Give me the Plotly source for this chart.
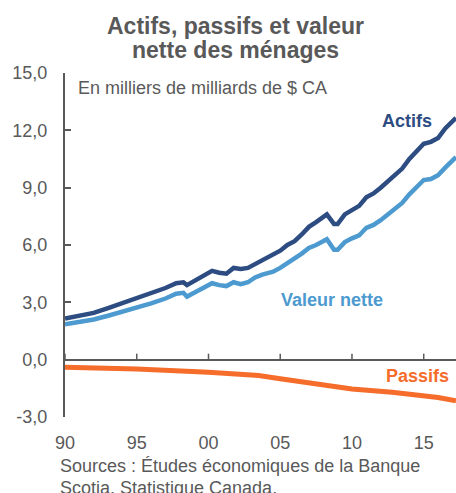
import plotly.graph_objects as go

# ---- data ----
years = [1990.0, 1991.0, 1992.0, 1993.0, 1994.0, 1995.0, 1996.0, 1997.0, 1997.75, 1998.25,
         1998.5, 1999.0, 1999.5, 2000.25, 2000.75, 2001.25, 2001.75, 2002.25, 2002.75, 2003.25,
         2003.75, 2004.5, 2005.0, 2005.5, 2006.0, 2006.5, 2007.0, 2007.5, 2008.25, 2008.75,
         2009.0, 2009.5, 2010.0, 2010.5, 2011.0, 2011.5, 2012.0, 2012.5, 2013.0, 2013.5,
         2014.0, 2014.5, 2015.0, 2015.5, 2016.0, 2016.5, 2017.0, 2017.25]
actifs = [2.15, 2.3, 2.45, 2.7, 2.95, 3.2, 3.45, 3.75, 4.0, 4.05,
          3.9, 4.1, 4.3, 4.65, 4.55, 4.5, 4.8, 4.75, 4.8, 5.0,
          5.2, 5.45, 5.7, 6.0, 6.2, 6.55, 6.95, 7.2, 7.6, 7.1,
          7.1, 7.6, 7.85, 8.05, 8.5, 8.7, 9.0, 9.35, 9.7, 10.0,
          10.5, 10.9, 11.3, 11.4, 11.6, 12.1, 12.5, 12.65]
valeur_nette = [1.85, 1.95, 2.1, 2.3, 2.5, 2.75, 2.95, 3.2, 3.45, 3.5,
                3.3, 3.5, 3.7, 4.0, 3.9, 3.85, 4.05, 3.95, 4.05, 4.3,
                4.45, 4.6, 4.8, 5.05, 5.25, 5.55, 5.85, 6.0, 6.3, 5.75,
                5.75, 6.15, 6.35, 6.5, 6.9, 7.05, 7.3, 7.6, 7.9, 8.2,
                8.65, 9.0, 9.4, 9.45, 9.65, 10.05, 10.45, 10.6]
passifs_years = [1990.0, 1995.0, 2000.0, 2003.5, 2005.0, 2006.5, 2008.3, 2010.0, 2012.8, 2015.0, 2016.0, 2017.25]
passifs = [-0.40, -0.49, -0.66, -0.83, -1.0, -1.15, -1.36, -1.53, -1.71, -1.88, -1.98, -2.15]

x_tick_vals = [1990, 1995, 2000, 2005, 2010, 2015]
x_tick_text = ["90", "95", "00", "05", "10", "15"]
y_tick_vals = [-3, 0, 3, 6, 9, 12, 15]
y_tick_text = ["-3,0", "0,0", "3,0", "6,0", "9,0", "12,0", "15,0"]

NAVY = "#2D4C82"
LIGHT = "#4C9ACF"
ORANGE = "#F56C2B"
GREY = "#595959"
FONT = "Liberation Sans, Arial, sans-serif"

fig = go.Figure()

# x tick marks on the zero line (pointing up)
tick_len = 6 / (344 / 18)
tx, ty = [], []
for v in x_tick_vals:
    tx += [v, v, None]
    ty += [0, tick_len, None]
fig.add_trace(go.Scatter(x=tx, y=ty, mode="lines", line=dict(color=GREY, width=1.5),
                         hoverinfo="skip", showlegend=False))

fig.add_trace(go.Scatter(x=passifs_years, y=passifs, mode="lines",
                         line=dict(color=ORANGE, width=5), showlegend=False))
fig.add_trace(go.Scatter(x=years, y=valeur_nette, mode="lines",
                         line=dict(color=LIGHT, width=4.5), showlegend=False))
fig.add_trace(go.Scatter(x=years, y=actifs, mode="lines",
                         line=dict(color=NAVY, width=4.5), showlegend=False))

fig.update_layout(
    width=456, height=493,
    margin=dict(l=65, r=0, t=73, b=76),
    paper_bgcolor="white", plot_bgcolor="white",
    font=dict(family=FONT, size=18, color=GREY),
    xaxis=dict(range=[1990, 2017.25], tickvals=x_tick_vals, ticktext=x_tick_text,
               showline=False, showgrid=False, zeroline=False, ticks="",
               ticklabelstandoff=13, tickfont=dict(size=18, color=GREY)),
    yaxis=dict(range=[-3, 15], tickvals=y_tick_vals, ticktext=y_tick_text,
               showline=True, linecolor=GREY, linewidth=2,
               ticks="inside", ticklen=6, tickwidth=2, tickcolor=GREY,
               showgrid=False, zeroline=True, zerolinecolor=GREY, zerolinewidth=2,
               ticklabelstandoff=12, tickfont=dict(size=18, color=GREY)),
)

ann = [
    dict(text="<b>Actifs, passifs et valeur</b>", x=0.435, y=1.1366, font=dict(size=23, color=GREY)),
    dict(text="<b>nette des ménages</b>", x=0.435, y=1.0669, font=dict(size=23, color=GREY)),
]
for a in ann:
    fig.add_annotation(xref="paper", yref="paper", xanchor="center", yanchor="middle",
                       showarrow=False, **a)

fig.add_annotation(xref="paper", yref="paper", x=0.028, y=0.956, xanchor="left", yanchor="middle",
                   text="En milliers de milliards de $ CA", showarrow=False,
                   font=dict(size=18, color=GREY))
fig.add_annotation(xref="paper", yref="paper", x=-0.0179, y=-0.1424, xanchor="left", yanchor="middle",
                   text="Sources : Études économiques de la Banque", showarrow=False,
                   font=dict(size=18, color=GREY))
fig.add_annotation(xref="paper", yref="paper", x=-0.0179, y=-0.2064, xanchor="left", yanchor="middle",
                   text="Scotia, Statistique Canada.", showarrow=False,
                   font=dict(size=18, color=GREY))

fig.add_annotation(x=2013.8, y=12.5, text="<b>Actifs</b>", showarrow=False,
                   font=dict(size=18, color=NAVY))
fig.add_annotation(x=2008.6, y=3.14, text="<b>Valeur nette</b>", showarrow=False,
                   font=dict(size=18, color=LIGHT))
fig.add_annotation(x=2014.55, y=-0.84, text="<b>Passifs</b>", showarrow=False,
                   font=dict(size=18, color=ORANGE))

fig.write_html("out.html",
               config={"displayModeBar": False},
               post_script="document.body.style.margin='0';document.body.style.overflow='hidden';")
